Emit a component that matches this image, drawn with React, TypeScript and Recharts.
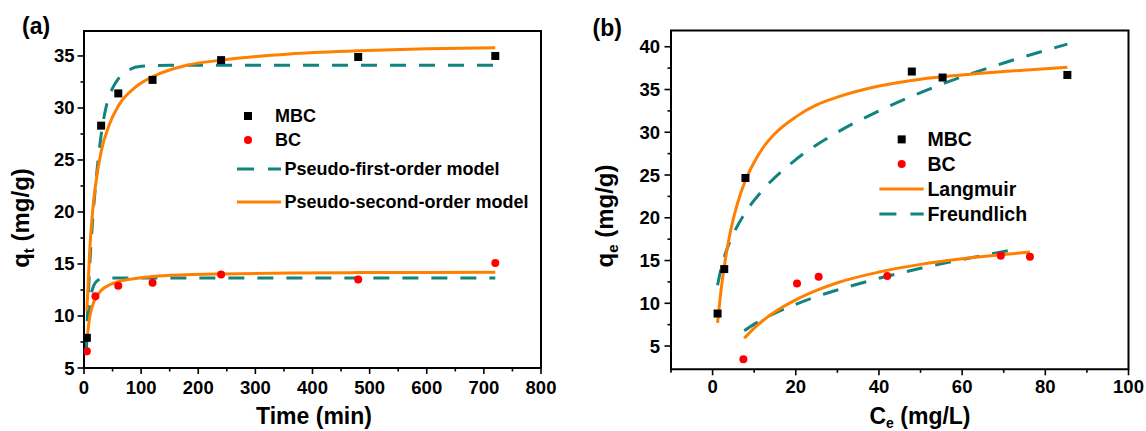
import React from 'react';
import { ComposedChart, Line, Scatter, XAxis, YAxis, Legend, ReferenceArea } from 'recharts';

const FONT = "'Liberation Sans', Arial, Helvetica, sans-serif";
const ORANGE = '#FF8000';
const TEAL = '#10847F';
const DASH = '16 13';

// ---------- Panel (a): kinetics ----------
const timeMBC = [5, 30, 60, 120, 240, 480, 720];
const qtMBC = [7.9, 28.3, 31.4, 32.7, 34.6, 34.9, 35.0];
const timeBC = [5, 20, 60, 120, 240, 480, 720];
const qtBC = [6.6, 11.9, 12.9, 13.2, 14.0, 13.5, 15.1];

const pfoTimeMBC = [4, 5, 10, 15, 20, 30, 40, 50, 60, 80, 100, 150, 720];
const pfoMBC = [6.7, 8.3, 14.8, 19.1, 22.4, 27.4, 30.4, 31.9, 32.8, 33.7, 34.0, 34.1, 34.1];
const pfoTimeBC = [4, 5, 10, 15, 20, 30, 45, 720];
const pfoBC = [6.7, 7.8, 11.2, 12.6, 13.2, 13.57, 13.65, 13.65];

const psoTime = [5, 10, 15, 20, 30, 45, 60, 90, 120, 180, 240, 360, 480, 600, 720];
const psoMBC = [10.5, 16.3, 20.0, 22.5, 25.8, 28.5, 30.2, 32.0, 33.0, 34.1, 34.6, 35.2, 35.5, 35.7, 35.8];
const psoBC = [7.6, 9.9, 11.0, 11.7, 12.45, 13.0, 13.3, 13.6, 13.8, 13.96, 14.04, 14.13, 14.17, 14.19, 14.21];

const timeTicks = [0, 50, 100, 150, 200, 250, 300, 350, 400, 450, 500, 550, 600, 650, 700, 750, 800];
const timeMajor = [0, 100, 200, 300, 400, 500, 600, 700, 800];
const qtTicks = [5, 7.5, 10, 12.5, 15, 17.5, 20, 22.5, 25, 27.5, 30, 32.5, 35];
const qtMajor = [5, 10, 15, 20, 25, 30, 35];

// ---------- Panel (b): isotherms ----------
const ceMBC = [1.2, 2.8, 7.9, 47.9, 55.3, 85.3];
const qeMBC = [8.8, 14.0, 24.65, 37.1, 36.4, 36.7];
const ceBC = [7.4, 20.3, 25.5, 42.0, 69.3, 76.3];
const qeBC = [3.45, 12.3, 13.1, 13.2, 15.57, 15.45];

const langCeMBC = [1.2, 2, 3, 4, 5, 6, 8, 10, 12, 15, 20, 25, 30, 40, 50, 60, 70, 85.3];
const langMBC = [7.7, 11.4, 14.9, 17.7, 19.9, 21.7, 24.5, 26.5, 28.1, 29.85, 31.8, 33.2, 34.1, 35.4, 36.2, 36.7, 37.1, 37.6];
const freuCeMBC = [1.2, 2, 3, 5, 8, 12, 20, 30, 40, 55, 70, 85.3];
const freuMBC = [12.1, 14.0, 15.7, 18.1, 20.7, 23.2, 26.8, 30.0, 32.5, 35.6, 38.1, 40.3];

const langCeBC = [7.6, 10, 15, 20, 25, 30, 40, 50, 60, 70, 76.3];
const langBC = [5.9, 7.1, 9.0, 10.4, 11.5, 12.4, 13.65, 14.55, 15.2, 15.7, 16.0];
const freuCeBC = [7.6, 10, 15, 20, 25, 30, 40, 50, 60, 74];
const freuBC = [6.8, 7.56, 8.84, 9.88, 10.78, 11.56, 12.92, 14.09, 15.12, 16.4];

const ceTicks = [-10, 0, 10, 20, 30, 40, 50, 60, 70, 80, 90, 100];
const ceMajor = [0, 20, 40, 60, 80, 100];
const qeTicks = [5, 7.5, 10, 12.5, 15, 17.5, 20, 22.5, 25, 27.5, 30, 32.5, 35, 37.5, 40];
const qeMajor = [5, 10, 15, 20, 25, 30, 35, 40];

const zip = (xs: number[], ys: number[]) => xs.map((x, i) => ({ x, y: ys[i] }));

const textStyle = { fontFamily: FONT, fontWeight: 700, fill: '#000' } as const;

function makeXTick(major: number[], labelDy: number) {
  return (p: any) => {
    const v = p.payload.value;
    const isMaj = major.includes(v);
    return (
      <g>
        <line x1={p.x} x2={p.x} y1={p.y} y2={p.y + (isMaj ? 6 : 3.5)} stroke="#000" strokeWidth={1.6} />
        {isMaj && (
          <text x={p.x} y={p.y + labelDy} textAnchor="middle" fontSize={18.5} {...textStyle}>
            {v}
          </text>
        )}
      </g>
    );
  };
}

function makeYTick(major: number[], labelDx: number) {
  return (p: any) => {
    const v = p.payload.value;
    const isMaj = major.includes(v);
    return (
      <g>
        <line x1={p.x} x2={p.x - (isMaj ? 6.5 : 3.5)} y1={p.y} y2={p.y} stroke="#000" strokeWidth={1.6} />
        {isMaj && (
          <text x={p.x - labelDx} y={p.y} textAnchor="end" dominantBaseline="central" fontSize={18.5} {...textStyle}>
            {v}
          </text>
        )}
      </g>
    );
  };
}

const squareShape = (p: any) => <rect x={p.cx - 4} y={p.cy - 4} width={8} height={8} fill="#000" />;
const circleShape = (p: any) => <circle cx={p.cx} cy={p.cy} r={4} fill="#FF0000" />;

function LegendA() {
  return (
    <svg width={320} height={125} style={{ display: 'block' }}>
      <rect x={14} y={15} width={8} height={8} fill="#000" />
      <text x={45} y={19} dominantBaseline="central" fontSize={18} {...textStyle}>MBC</text>
      <circle cx={18} cy={43} r={4} fill="#FF0000" />
      <text x={45} y={43} dominantBaseline="central" fontSize={18} {...textStyle}>BC</text>
      <line x1={7} x2={51} y1={72} y2={72} stroke={TEAL} strokeWidth={3} strokeDasharray="17 14" />
      <text x={54.5} y={72} dominantBaseline="central" fontSize={18} {...textStyle}>Pseudo-first-order model</text>
      <line x1={7} x2={51} y1={105} y2={105} stroke={ORANGE} strokeWidth={3} />
      <text x={54.5} y={105} dominantBaseline="central" fontSize={18} {...textStyle}>Pseudo-second-order model</text>
    </svg>
  );
}

function LegendB() {
  return (
    <svg width={200} height={110} style={{ display: 'block' }}>
      <rect x={24.7} y={15.4} width={8} height={8} fill="#000" />
      <text x={54.4} y={19.4} dominantBaseline="central" fontSize={19.5} {...textStyle}>MBC</text>
      <circle cx={28.7} cy={44} r={4} fill="#FF0000" />
      <text x={54.4} y={44} dominantBaseline="central" fontSize={19.5} {...textStyle}>BC</text>
      <line x1={6.4} x2={50.7} y1={69} y2={69} stroke={ORANGE} strokeWidth={3} />
      <text x={54.4} y={69} dominantBaseline="central" fontSize={19.5} {...textStyle}>Langmuir</text>
      <line x1={6.4} x2={50.7} y1={94} y2={94} stroke={TEAL} strokeWidth={3} strokeDasharray="17 14" />
      <text x={54.4} y={94} dominantBaseline="central" fontSize={19.5} {...textStyle}>Freundlich</text>
    </svg>
  );
}

function PanelA() {
  return (
    <ComposedChart width={573} height={431} margin={{ top: 31, right: 32, bottom: 23, left: 24 }}>
      <XAxis
        type="number"
        dataKey="x"
        domain={[0, 800]}
        ticks={timeTicks}
        interval={0}
        allowDataOverflow
        axisLine={false}
        tickLine={false}
        tickSize={0}
        tickMargin={0}
        height={40}
        tick={makeXTick(timeMajor, 25.5)}
      />
      <YAxis
        type="number"
        dataKey="y"
        domain={[5, 37.4]}
        ticks={qtTicks}
        interval={0}
        allowDataOverflow
        axisLine={false}
        tickLine={false}
        tickSize={0}
        tickMargin={0}
        width={60}
        tick={makeYTick(qtMajor, 9.5)}
      />
      <ReferenceArea x1={0} x2={800} y1={5} y2={37.4} fill="none" stroke="#000" strokeWidth={2} ifOverflow="visible" />
      <Scatter data={zip(timeMBC, qtMBC)} dataKey="y" shape={squareShape} isAnimationActive={false} />
      <Scatter data={zip(timeBC, qtBC)} dataKey="y" shape={circleShape} isAnimationActive={false} />
      <Line data={zip(pfoTimeMBC, pfoMBC)} dataKey="y" type="monotone" stroke={TEAL} strokeWidth={3} strokeDasharray={DASH} dot={false} activeDot={false} isAnimationActive={false} />
      <Line data={zip(pfoTimeBC, pfoBC)} dataKey="y" type="monotone" stroke={TEAL} strokeWidth={3} strokeDasharray={DASH} dot={false} activeDot={false} isAnimationActive={false} />
      <Line data={zip(psoTime, psoMBC)} dataKey="y" type="monotone" stroke={ORANGE} strokeWidth={3} dot={false} activeDot={false} isAnimationActive={false} />
      <Line data={zip(psoTime, psoBC)} dataKey="y" type="monotone" stroke={ORANGE} strokeWidth={3} dot={false} activeDot={false} isAnimationActive={false} />
      <Legend
        layout="vertical"
        align="center"
        verticalAlign="middle"
        content={() => <LegendA />}
        wrapperStyle={{ left: 230, top: 97, width: 320, height: 125 }}
      />
    </ComposedChart>
  );
}

function PanelB() {
  return (
    <ComposedChart width={573} height={431} margin={{ top: 30.5, right: 17.5, bottom: 21.7, left: 38 }}>
      <XAxis
        type="number"
        dataKey="x"
        domain={[-10, 100]}
        ticks={ceTicks}
        interval={0}
        allowDataOverflow
        axisLine={false}
        tickLine={false}
        tickSize={0}
        tickMargin={0}
        height={40}
        tick={makeXTick(ceMajor, 23.5)}
      />
      <YAxis
        type="number"
        dataKey="y"
        domain={[2.28, 41.9]}
        ticks={qeTicks}
        interval={0}
        allowDataOverflow
        axisLine={false}
        tickLine={false}
        tickSize={0}
        tickMargin={0}
        width={60}
        tick={makeYTick(qeMajor, 11)}
      />
      <ReferenceArea x1={-10} x2={100} y1={2.28} y2={41.9} fill="none" stroke="#000" strokeWidth={2} ifOverflow="visible" />
      <Scatter data={zip(ceMBC, qeMBC)} dataKey="y" shape={squareShape} isAnimationActive={false} />
      <Scatter data={zip(ceBC, qeBC)} dataKey="y" shape={circleShape} isAnimationActive={false} />
      <Line data={zip(freuCeMBC, freuMBC)} dataKey="y" type="monotone" stroke={TEAL} strokeWidth={3} strokeDasharray={DASH} dot={false} activeDot={false} isAnimationActive={false} />
      <Line data={zip(freuCeBC, freuBC)} dataKey="y" type="monotone" stroke={TEAL} strokeWidth={3} strokeDasharray={DASH} dot={false} activeDot={false} isAnimationActive={false} />
      <Line data={zip(langCeMBC, langMBC)} dataKey="y" type="monotone" stroke={ORANGE} strokeWidth={3} dot={false} activeDot={false} isAnimationActive={false} />
      <Line data={zip(langCeBC, langBC)} dataKey="y" type="monotone" stroke={ORANGE} strokeWidth={3} dot={false} activeDot={false} isAnimationActive={false} />
      <Legend
        layout="vertical"
        align="center"
        verticalAlign="middle"
        content={() => <LegendB />}
        wrapperStyle={{ left: 300, top: 120, width: 200, height: 110 }}
      />
    </ComposedChart>
  );
}

function Titles() {
  return (
    <svg width={1146} height={431} style={{ position: 'absolute', left: 0, top: 0, pointerEvents: 'none' }}>
      <text x={22} y={34} fontSize={23} {...textStyle}>(a)</text>
      <text x={592.5} y={36} fontSize={23} {...textStyle}>(b)</text>
      <text x={314} y={424} textAnchor="middle" fontSize={23} {...textStyle}>Time (min)</text>
      <text x={920} y={424} textAnchor="middle" fontSize={23} {...textStyle}>
        C<tspan dy={4} fontSize={14}>e</tspan>
        <tspan dy={-4}> (mg/L)</tspan>
      </text>
      <text x={29} y={218} transform="rotate(-90, 29, 218)" textAnchor="middle" fontSize={24} {...textStyle}>
        q<tspan dy={5} fontSize={15}>t</tspan>
        <tspan dy={-5}> (mg/g)</tspan>
      </text>
      <text x={613} y={216} transform="rotate(-90, 613, 216)" textAnchor="middle" fontSize={24} {...textStyle}>
        q<tspan dy={5} fontSize={15}>e</tspan>
        <tspan dy={-5}> (mg/g)</tspan>
      </text>
    </svg>
  );
}

export default function App() {
  return (
    <div style={{ position: 'absolute', left: 0, top: 0, width: 1146, height: 431, background: '#fff', overflow: 'hidden' }}>
      <div style={{ position: 'absolute', left: 0, top: 0 }}>
        <PanelA />
      </div>
      <div style={{ position: 'absolute', left: 573, top: 0 }}>
        <PanelB />
      </div>
      <Titles />
    </div>
  );
}
